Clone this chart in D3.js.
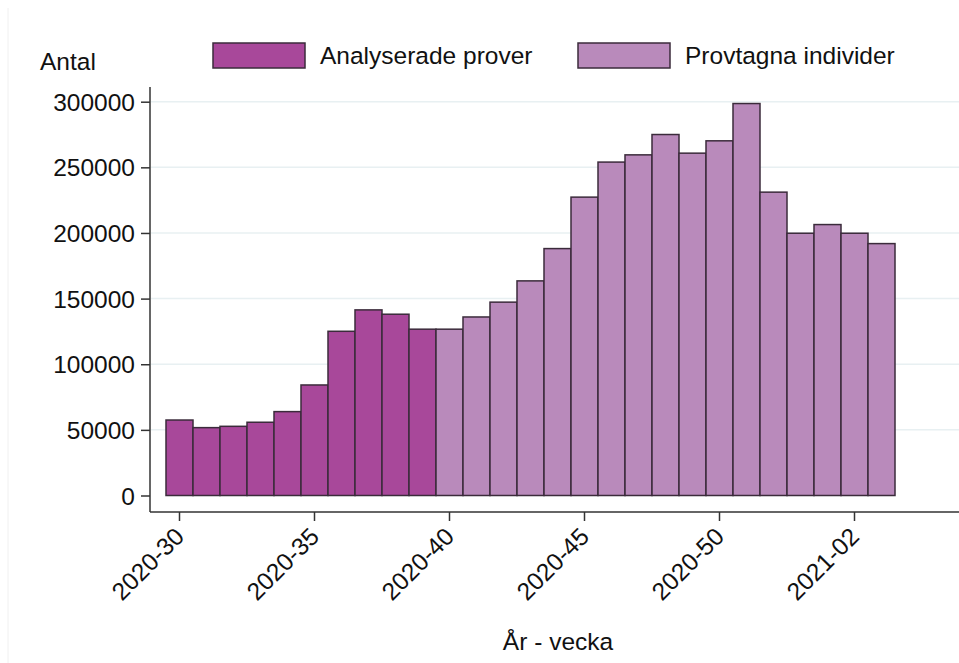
<!DOCTYPE html>
<html>
<head>
<meta charset="utf-8">
<script src="https://cdn.jsdelivr.net/npm/d3@7"></script>
<style>
  body { margin: 0; background: #fff; }
  svg text { font-family: "Liberation Sans", Arial, sans-serif; fill: #111; }
</style>
</head>
<body>
<div id="chart"></div>
<script>
// weeks on the x axis
var weeks = ["2020-30","2020-31","2020-32","2020-33","2020-34","2020-35","2020-36","2020-37","2020-38","2020-39",
             "2020-40","2020-41","2020-42","2020-43","2020-44","2020-45","2020-46","2020-47","2020-48","2020-49",
             "2020-50","2020-51","2020-52","2020-53","2021-01","2021-02","2021-03"];

// Analyserade prover (weeks 30-39)
var analyserade = [57500, 51700, 52700, 55800, 63900, 84200, 125100, 141400, 138100, 126700];
// Provtagna individer (week 40 onwards)
var provtagna = [126700, 136000, 147300, 163500, 188100, 227300, 254000, 259500, 275000, 260800,
                 270200, 298600, 231100, 199800, 206400, 199800, 191900];

var seriesNames = ["Analyserade prover", "Provtagna individer"];
var seriesColors = ["#a8489a", "#b98abb"];
var xTicks = ["2020-30","2020-35","2020-40","2020-45","2020-50","2021-02"];
var yTicks = [0, 50000, 100000, 150000, 200000, 250000, 300000];

var bars = [];
analyserade.forEach(function(v, i) { bars.push({week: weeks[i], value: v, s: 0}); });
provtagna.forEach(function(v, i) { bars.push({week: weeks[analyserade.length + i], value: v, s: 1}); });

var width = 959, height = 663,
    fontSize = "24.5px";

var svg = d3.select("#chart").append("svg")
    .attr("width", width)
    .attr("height", height);

// faint frame line on the left
svg.append("line")
    .attr("x1", 8).attr("x2", 8).attr("y1", 8).attr("y2", height)
    .style("stroke", "#f0f0f0");

var x = d3.scaleBand()
    .domain(weeks)
    .range([166, 895])
    .paddingInner(0);

var y = d3.scaleLinear()
    .domain([0, 300000])
    .range([495.5, 101.7]);

var axisY = 512, axisX = 150;

// gridlines
svg.append("g")
    .selectAll("line")
    .data(yTicks.slice(1))
    .enter()
    .append("line")
    .attr("x1", axisX + 1).attr("x2", width)
    .attr("y1", d => y(d)).attr("y2", d => y(d))
    .style("stroke", "#e8f0f2")
    .style("stroke-width", 1.5);

// bars
svg.append("g")
    .selectAll("rect")
    .data(bars)
    .enter()
    .append("rect")
    .attr("x", d => x(d.week))
    .attr("width", x.bandwidth())
    .attr("y", d => y(d.value))
    .attr("height", d => y(0) - y(d.value))
    .style("fill", d => seriesColors[d.s])
    .style("stroke", "#3b2b3b")
    .style("stroke-width", 1.5);

// y axis
var yAxis = d3.axisLeft(y).tickValues(yTicks).tickSize(9).tickPadding(6).tickFormat(d3.format("d"));
var gy = svg.append("g")
    .attr("transform", "translate(" + axisX + ",0)")
    .call(yAxis);
gy.select(".domain").remove();
gy.selectAll(".tick line").style("stroke", "#333").style("stroke-width", 1.5);
gy.selectAll(".tick text").style("font-size", fontSize).attr("dy", "0.35em");

svg.append("line")
    .attr("x1", axisX).attr("x2", axisX)
    .attr("y1", 87).attr("y2", axisY)
    .style("stroke", "#333").style("stroke-width", 1.5);

// x axis
var xAxis = d3.axisBottom(x).tickValues(xTicks).tickSize(9).tickPadding(4);
var gx = svg.append("g")
    .attr("transform", "translate(0," + axisY + ")")
    .call(xAxis);
gx.select(".domain").remove();
gx.selectAll(".tick line").style("stroke", "#333").style("stroke-width", 1.5);
gx.selectAll(".tick text")
    .style("font-size", fontSize)
    .style("text-anchor", "end")
    .attr("y", 0)
    .attr("dy", "0.35em")
    .attr("transform", "translate(0,20) rotate(-45)");

svg.append("line")
    .attr("x1", axisX).attr("x2", width)
    .attr("y1", axisY).attr("y2", axisY)
    .style("stroke", "#333").style("stroke-width", 1.5);

// axis titles
svg.append("text")
    .attr("x", 40).attr("y", 70)
    .style("font-size", fontSize)
    .text("Antal");

svg.append("text")
    .attr("x", 558).attr("y", 650)
    .attr("text-anchor", "middle")
    .style("font-size", fontSize)
    .text("År - vecka");

// legend
var legendX = [213, 578];
var legend = svg.append("g")
    .selectAll("g")
    .data(seriesNames)
    .enter()
    .append("g")
    .attr("transform", (d, i) => "translate(" + legendX[i] + ",43)");

legend.append("rect")
    .attr("width", 92).attr("height", 25)
    .style("fill", (d, i) => seriesColors[i])
    .style("stroke", "#3b2b3b")
    .style("stroke-width", 1.5);

legend.append("text")
    .attr("x", 107).attr("y", 21)
    .style("font-size", fontSize)
    .text(d => d);
</script>
</body>
</html>
